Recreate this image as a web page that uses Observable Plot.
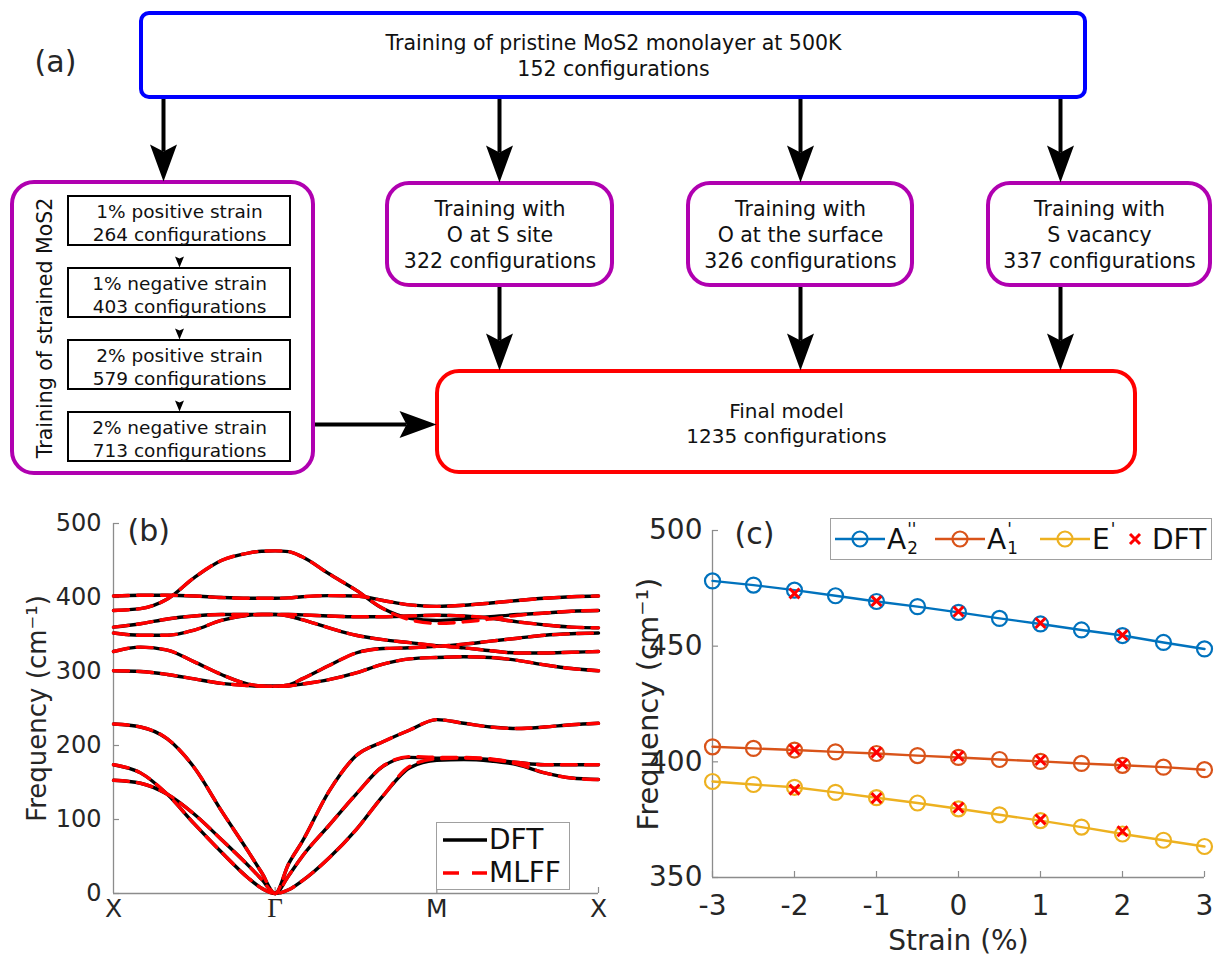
<!DOCTYPE html>
<html>
<head>
<meta charset="utf-8">
<title>MLFF training workflow and MoS2 phonons</title>
<script src="https://cdn.jsdelivr.net/npm/d3@7"></script>
<script src="https://cdn.jsdelivr.net/npm/@observablehq/plot@0.6"></script>
<style>
  html, body { margin: 0; background: #fff; }
  #fig { position: relative; width: 1218px; height: 963px; overflow: hidden;
         font-family: "DejaVu Sans", sans-serif; color: #262626; background: #fff; }
  #fig > * { position: absolute; }
  .legend { background: #fff; border: 1px solid #a0a0a0; box-sizing: border-box;
            font-size: 28px; color: #111; }
  .legend .row { display: flex; align-items: center; height: 33px; }
  .legend svg { display: block; flex: none; }
  .legend .entry { display: flex; align-items: center; flex: none; }
  .stack { display: inline-flex; flex-direction: column; font-size: 0.6em;
           line-height: 1.05; margin-left: 1px; }
  .stack .sup { margin-top: 0px; }
  .stack .sub { margin-top: 1px; }
</style>
</head>
<body>
<div id="fig"></div>
<script>
// ---------------- (a) workflow text ----------------
const topLines = ["Training of pristine MoS2 monolayer at 500K", "152 configurations"];
const branchLines = [
  ["Training with", "O at S site", "322 configurations"],
  ["Training with", "O at the surface", "326 configurations"],
  ["Training with", "S vacancy", "337 configurations"]
];
const strainGroupLabel = "Training of strained MoS2";
const strainSteps = [
  ["1% positive strain", "264 configurations"],
  ["1% negative strain", "403 configurations"],
  ["2% positive strain", "579 configurations"],
  ["2% negative strain", "713 configurations"]
];
const finalLines = ["Final model", "1235 configurations"];

// ---------------- (b) phonon dispersion, cm^-1 along X–Γ–M–X ----------------
const kPath = [0, 0.167, 0.333, 0.5, 0.667, 0.833, 0.917, 1, 1.083, 1.167, 1.333,
               1.5, 1.667, 1.833, 2, 2.167, 2.333, 2.5, 2.667, 2.833, 3];
const kTickPos = [0, 1, 2, 3];
const kTickLabels = ["X", "Γ", "M", "X"];
const freqTicks = [0, 100, 200, 300, 400, 500];

const dftLA = [229, 225, 209, 170, 112, 57, 28, 0, 40, 70, 138, 186, 205, 221, 235, 230, 225, 223, 225, 228, 230];
const dftTA = [153, 149, 134, 107, 73, 38, 19, 0, 24, 50, 92, 134, 172, 184, 183, 183, 181, 177, 174, 174, 174];
const dftZA = [174, 163, 134, 94, 56, 21, 7, 0, 5, 17, 48, 86, 132, 170, 180, 181, 179, 174, 163, 156, 154];
const dftO1 = [382.5, 385, 398, 427, 450, 460, 462.5, 463, 462, 455, 432, 410, 385, 372, 369, 371, 374, 377, 379, 381.5, 382.5];
const dftO2 = [402, 403, 403, 402, 400, 399, 399, 399, 399.5, 401, 402.5, 402, 396, 390, 388, 389.5, 392.5, 396, 399, 401, 402];
const dftO3 = [360, 364.5, 371, 375, 377, 377, 377, 377, 377, 376.5, 375, 374, 374, 375, 376, 375, 372, 367, 363, 360, 359];
const dftO4 = [352, 349, 349, 356, 369, 376, 377, 377, 375, 370, 359, 349, 343, 339, 335, 332, 328, 325, 325, 326, 327];
const dftO5 = [327, 333, 329, 313, 296, 283, 280.5, 280, 282, 290, 308, 325, 331, 332, 334, 337, 341, 345, 349, 351, 352];
const dftO6 = [301, 300, 296, 290, 284, 281, 280, 280, 280.5, 283, 289, 298, 310, 317, 319, 320, 319, 315, 309, 304, 301];

// MLFF branches (identical to DFT except where the two visibly part)
const mlffLA = [229, 225, 209, 170, 112, 57, 28, 0, 40, 70, 138, 186, 205, 221, 235, 230, 225, 223, 225, 228, 230];
const mlffTA = [153, 149, 134, 107, 73, 38, 19, 0, 24, 50, 92, 134, 172, 185, 184, 184, 182, 177, 174, 174, 174];
const mlffZA = [174, 163, 134, 94, 56, 21, 7, 0, 5, 17, 48, 86, 132, 172, 182, 183, 181, 175, 163, 156, 154];
const mlffO1 = [382.5, 385, 398, 427, 450, 460, 462.5, 463, 462, 455, 432, 410, 385, 370, 365, 367, 371, 376, 379, 381.5, 382.5];
const mlffO2 = [402, 403, 403, 402, 400, 399, 399, 399, 399.5, 401, 402.5, 402, 396, 390, 388, 389.5, 392.5, 396, 399, 401, 402];
const mlffO3 = [360, 364.5, 371, 375, 377, 377, 377, 377, 377, 376.5, 375, 374, 374, 375, 376, 375, 372, 367, 363, 360, 359];
const mlffO4 = [352, 349, 349, 356, 369, 376, 377, 377, 375, 370, 359, 349, 343, 339, 335, 332, 328, 325, 325, 326, 327];
const mlffO5 = [327, 333, 329, 313, 296, 283, 280.5, 280, 282, 290, 308, 325, 331, 332, 334, 337, 341, 345, 349, 351, 352];
const mlffO6 = [301, 300, 296, 290, 284, 281, 280, 280, 280.5, 283, 289, 298, 310, 317, 319, 320, 319, 315, 309, 304, 301];

// ---------------- (c) Raman-active modes vs biaxial strain ----------------
const strain = [-3, -2.5, -2, -1.5, -1, -0.5, 0, 0.5, 1, 1.5, 2, 2.5, 3];
const freqA2pp = [478.2, 476.4, 474.2, 471.8, 469.3, 467.1, 464.6, 462.0, 459.6, 457.0, 454.6, 451.6, 448.8];
const freqA1p  = [406.5, 405.8, 405.1, 404.3, 403.6, 402.7, 401.9, 401.0, 400.2, 399.3, 398.5, 397.7, 396.6];
const freqEp   = [391.5, 390.2, 389.0, 386.8, 384.5, 382.2, 379.7, 377.1, 374.6, 371.8, 368.8, 366.1, 363.4];
const dftStrain = [-2, -1, 0, 1, 2];
const dftA2pp = [472.8, 469.5, 465.0, 460.0, 454.8];
const dftA1p  = [405.3, 404.1, 402.5, 400.8, 399.1];
const dftEp   = [388.0, 384.3, 380.2, 375.1, 370.0];
const modeBase  = ["A", "A", "E"];
const modePrime = ["''", "'", "'"];
const modeSub   = ["2", "1", ""];
const modeColors = ["#0072BD", "#D95319", "#EDB120"];
const strainTicks = [-3, -2, -1, 0, 1, 2, 3];
const freqTicksC = [350, 400, 450, 500];

const fig = document.getElementById("fig");
function place(node, left, top) {
  node.style.position = "absolute";
  node.style.left = left + "px";
  node.style.top = top + "px";
  fig.appendChild(node);
  return node;
}

// ================= (a) workflow diagram =================
const topBox = {x1: 141, x2: 1085, y1: 13, y2: 97};
const strainBox = {x1: 12, x2: 313, y1: 182, y2: 473};
const branchBoxes = [{x1: 387, x2: 612}, {x1: 688, x2: 912}, {x1: 988, x2: 1210}]
  .map(b => ({...b, y1: 183, y2: 285}));
const stepBoxes = [196, 268, 340, 412].map(t => ({x1: 68, x2: 290, y1: t, y2: t + 49}));
const finalBox = {x1: 437, x2: 1135, y1: 371, y2: 472};
const dropX = [163, 499, 800, 1060];
const sideArrowY = 424;

// notched, filled arrow head with its tip at the anchor, pointing down
function arrowHead(w, len, notch) {
  return {draw(ctx) {
    ctx.moveTo(0, 0);
    ctx.lineTo(-w / 2, -len);
    ctx.lineTo(0, -len + notch);
    ctx.lineTo(w / 2, -len);
    ctx.closePath();
  }};
}
const bigHead = {w: 27, len: 37, notch: 7};
const smallHead = {w: 9, len: 11, notch: 2};

const downArrows = [
  {x: dropX[0], y1: topBox.y2, y2: strainBox.y1 - 1},
  ...branchBoxes.map((b, i) => ({x: dropX[i + 1], y1: topBox.y2, y2: b.y1 - 1})),
  ...branchBoxes.map((b, i) => ({x: dropX[i + 1], y1: b.y2, y2: finalBox.y1 - 1}))
];
const stepArrows = stepBoxes.slice(0, -1).map((b, i) => ({x: (b.x1 + b.x2) / 2, y1: b.y2, y2: stepBoxes[i + 1].y1 - 1}));
const sideArrow = [{x1: strainBox.x2, x2: finalBox.x1 - 1, y: sideArrowY}];

const cx = b => (b.x1 + b.x2) / 2;
const cy = b => (b.y1 + b.y2) / 2;
const ink = "#111";

const flow = Plot.plot({
  width: 1218, height: 490, margin: 0,
  style: {fontFamily: "DejaVu Sans", background: "transparent", overflow: "visible"},
  x: {type: "identity", axis: null},
  y: {type: "identity", axis: null},
  marks: [
    Plot.link(downArrows, {x1: "x", x2: "x", y1: "y1", y2: d => d.y2 - bigHead.len + bigHead.notch,
      stroke: "black", strokeWidth: 4}),
    Plot.link(sideArrow, {x1: "x1", x2: d => d.x2 - bigHead.len + bigHead.notch, y1: "y", y2: "y",
      stroke: "black", strokeWidth: 4}),
    Plot.link(stepArrows, {x1: "x", x2: "x", y1: "y1", y2: d => d.y2 - smallHead.len + smallHead.notch,
      stroke: "black", strokeWidth: 1.6}),
    Plot.rect([topBox], {x1: "x1", x2: "x2", y1: "y1", y2: "y2", rx: 8,
      fill: "white", stroke: "#0000ff", strokeWidth: 4}),
    Plot.rect([strainBox, ...branchBoxes], {x1: "x1", x2: "x2", y1: "y1", y2: "y2", rx: 22,
      fill: "white", stroke: "#b000b0", strokeWidth: 4}),
    Plot.rect([finalBox], {x1: "x1", x2: "x2", y1: "y1", y2: "y2", rx: 22,
      fill: "white", stroke: "#ff0000", strokeWidth: 4}),
    Plot.rect(stepBoxes, {x1: "x1", x2: "x2", y1: "y1", y2: "y2",
      fill: "white", stroke: "black", strokeWidth: 2}),
    Plot.dot(downArrows, {x: "x", y: "y2", r: 10, symbol: arrowHead(bigHead.w, bigHead.len, bigHead.notch),
      fill: "black", stroke: "none"}),
    Plot.dot(sideArrow, {x: "x2", y: "y", r: 10, rotate: -90,
      symbol: arrowHead(bigHead.w, bigHead.len, bigHead.notch), fill: "black", stroke: "none"}),
    Plot.dot(stepArrows, {x: "x", y: "y2", r: 4, symbol: arrowHead(smallHead.w, smallHead.len, smallHead.notch),
      fill: "black", stroke: "none"}),
    Plot.text([topLines.join("\n")], {x: cx(topBox), y: cy(topBox) - 1, text: d => d,
      fontSize: 20.5, lineHeight: 1.27, fill: ink}),
    Plot.text(branchLines.map((l, i) => ({t: l.join("\n"), x: cx(branchBoxes[i]), y: cy(branchBoxes[i]) - 1})),
      {x: "x", y: "y", text: "t", fontSize: 20.5, lineHeight: 1.27, fill: ink}),
    Plot.text(strainSteps.map((l, i) => ({t: l.join("\n"), x: cx(stepBoxes[i]), y: cy(stepBoxes[i]) + 1})),
      {x: "x", y: "y", text: "t", fontSize: 18.5, lineHeight: 1.23, fill: ink}),
    Plot.text([strainGroupLabel], {x: 45, y: cy(strainBox), text: d => d, rotate: -90,
      fontSize: 20.5, fill: ink}),
    Plot.text([finalLines.join("\n")], {x: cx(finalBox), y: cy(finalBox), text: d => d,
      fontSize: 20, lineHeight: 1.25, fill: ink}),
    Plot.text(["(a)"], {x: 55, y: 62, text: d => d, fontSize: 30, fill: "#262626"})
  ]
});
place(flow, 0, 0);

// ================= (b) phonon dispersion =================
const bandsDFT = [dftLA, dftTA, dftZA, dftO1, dftO2, dftO3, dftO4, dftO5, dftO6];
const bandsMLFF = [mlffLA, mlffTA, mlffZA, mlffO1, mlffO2, mlffO3, mlffO4, mlffO5, mlffO6];
const toRows = bands => bands.flatMap((b, j) => b.map((f, i) => ({k: kPath[i], f, branch: j})));
const rowsDFT = toRows(bandsDFT);
const rowsMLFF = toRows(bandsMLFF);
const kTicks = kTickPos.map((k, i) => ({k, label: kTickLabels[i]}));

const bW = 610, bH = 463, bML = 113, bMR = 12, bMT = 23, bMB = 70;
const axisGray = "#8c8c8c";
const panelB = Plot.plot({
  width: bW, height: bH, marginLeft: bML, marginRight: bMR, marginTop: bMT, marginBottom: bMB,
  style: {fontFamily: "DejaVu Sans", color: "#262626", background: "transparent", overflow: "visible"},
  x: {domain: [0, 3], axis: null},
  y: {domain: [0, 500], axis: null},
  marks: [
    Plot.ruleX([0], {stroke: axisGray, strokeWidth: 1.3}),
    Plot.ruleY([0], {stroke: axisGray, strokeWidth: 1.3}),
    Plot.tickY(freqTicks, {y: d => d, insetRight: bW - bML - bMR - 6, stroke: axisGray, strokeWidth: 1.2}),
    Plot.tickX(kTickPos.slice(1), {x: d => d, insetTop: bH - bMT - bMB - 6, stroke: axisGray, strokeWidth: 1.2}),
    Plot.axisY(freqTicks, {tickSize: 0, tickPadding: 12, fontSize: 24, label: null}),
    Plot.text(kTicks.filter(d => d.label !== "Γ"), {x: "k", text: "label", frameAnchor: "bottom",
      dy: 23, fontSize: 25, fill: "#262626"}),
    Plot.text(kTicks.filter(d => d.label === "Γ"), {x: "k", text: "label", frameAnchor: "bottom",
      dy: 23, fontSize: 27, fontFamily: "Liberation Serif", fill: "#262626"}),
    Plot.line(rowsDFT, {x: "k", y: "f", z: "branch", stroke: "black", strokeWidth: 3.4, curve: "monotone-x"}),
    Plot.line(rowsMLFF, {x: "k", y: "f", z: "branch", stroke: "#ff0000", strokeWidth: 3.4,
      strokeDasharray: "15,9", curve: "monotone-x"}),
    Plot.text(["Frequency (cm⁻¹)"], {frameAnchor: "left", text: d => d, rotate: -90, dx: -76,
      textAnchor: "middle", fontSize: 26, fill: "#262626"}),
    Plot.text(["(b)"], {frameAnchor: "top-left", text: d => d, dx: 14, dy: -4, lineAnchor: "top",
      textAnchor: "start", fontSize: 30, fill: "#262626"})
  ]
});
place(panelB, 0, 500);

// legend for (b)
const legB = document.createElement("div");
legB.className = "legend";
legB.style.width = "134px";
legB.style.height = "68px";
legB.style.padding = "0 0 0 5px";
legB.innerHTML = `
  <div class="row"><svg width="46" height="20"><line x1="1" y1="10" x2="45" y2="10" stroke="black" stroke-width="3.4"/></svg><span style="margin-left:1px">DFT</span></div>
  <div class="row"><svg width="46" height="20"><line x1="1" y1="10" x2="45" y2="10" stroke="#ff0000" stroke-width="3.4" stroke-dasharray="16,13"/></svg><span style="margin-left:1px">MLFF</span></div>`;
place(legB, 436, 822);

// ================= (c) frequency vs strain =================
const cW = 618, cH = 463, cML = 112, cMR = 14, cMT = 30, cMB = 86;
const modeSeries = [freqA2pp, freqA1p, freqEp];
const dftSeries = [dftA2pp, dftA1p, dftEp];
const modeRows = modeSeries.map(s => s.map((f, i) => ({s: strain[i], f})));
const dftRows = dftSeries.flatMap(s => s.map((f, i) => ({s: dftStrain[i], f})));

const panelC = Plot.plot({
  width: cW, height: cH, marginLeft: cML, marginRight: cMR, marginTop: cMT, marginBottom: cMB,
  style: {fontFamily: "DejaVu Sans", color: "#262626", background: "transparent", overflow: "visible"},
  x: {domain: [-3, 3], axis: null},
  y: {domain: [350, 500], axis: null},
  marks: [
    Plot.ruleX([-3], {stroke: axisGray, strokeWidth: 1.3}),
    Plot.ruleY([350], {stroke: axisGray, strokeWidth: 1.3}),
    Plot.tickY(freqTicksC, {y: d => d, insetRight: cW - cML - cMR - 6, stroke: axisGray, strokeWidth: 1.2}),
    Plot.tickX(strainTicks, {x: d => d, insetTop: cH - cMT - cMB - 6, stroke: axisGray, strokeWidth: 1.2}),
    Plot.axisY(freqTicksC, {tickSize: 0, tickPadding: 10, fontSize: 28, label: null}),
    Plot.axisX(strainTicks, {tickSize: 0, tickPadding: 18, fontSize: 28, label: null, tickFormat: d => String(d)}),
    ...modeRows.flatMap((rows, i) => [
      Plot.line(rows, {x: "s", y: "f", stroke: modeColors[i], strokeWidth: 2.4}),
      Plot.dot(rows, {x: "s", y: "f", r: 7.5, stroke: modeColors[i], strokeWidth: 2.2, fill: "none"})
    ]),
    Plot.dot(dftRows, {x: "s", y: "f", symbol: "times", r: 4.6, stroke: "#ff0000", strokeWidth: 3}),
    Plot.text(["Frequency (cm⁻¹)"], {frameAnchor: "left", text: d => d, rotate: -90, dx: -64,
      textAnchor: "middle", fontSize: 29, fill: "#262626"}),
    Plot.text(["Strain (%)"], {frameAnchor: "bottom", text: d => d, dy: 72, fontSize: 28, fill: "#262626"}),
    Plot.text(["(c)"], {frameAnchor: "top-left", text: d => d, dx: 22, dy: -8, lineAnchor: "top",
      textAnchor: "start", fontSize: 30, fill: "#262626"})
  ]
});
place(panelC, 600, 500);

// legend for (c): fixed-width entries
const entryWidths = [100, 105, 80];
const circleSample = c => `<svg width="50" height="24"><line x1="0" y1="12" x2="50" y2="12" stroke="${c}" stroke-width="2.4"/><circle cx="25" cy="12" r="7.5" fill="none" stroke="${c}" stroke-width="2.2"/></svg>`;
const modeLabel = i => `<span style="display:inline-flex;align-items:center;margin-left:2px">${modeBase[i]}<span class="stack"><span class="sup">${modePrime[i]}</span><span class="sub">${modeSub[i] || "&nbsp;"}</span></span></span>`;
const legC = document.createElement("div");
legC.className = "legend";
legC.style.width = "382px";
legC.style.height = "42px";
legC.style.display = "flex";
legC.style.alignItems = "center";
legC.style.paddingLeft = "4px";
legC.innerHTML = modeColors.map((c, i) =>
    `<div class="entry" style="width:${entryWidths[i]}px">${circleSample(c)}${modeLabel(i)}</div>`).join("") +
  `<div class="entry"><svg width="30" height="24"><path d="M10,7 L20,17 M20,7 L10,17" stroke="#ff0000" stroke-width="3"/></svg><span style="margin-left:2px">DFT</span></div>`;
place(legC, 830, 518);
</script>
</body>
</html>
